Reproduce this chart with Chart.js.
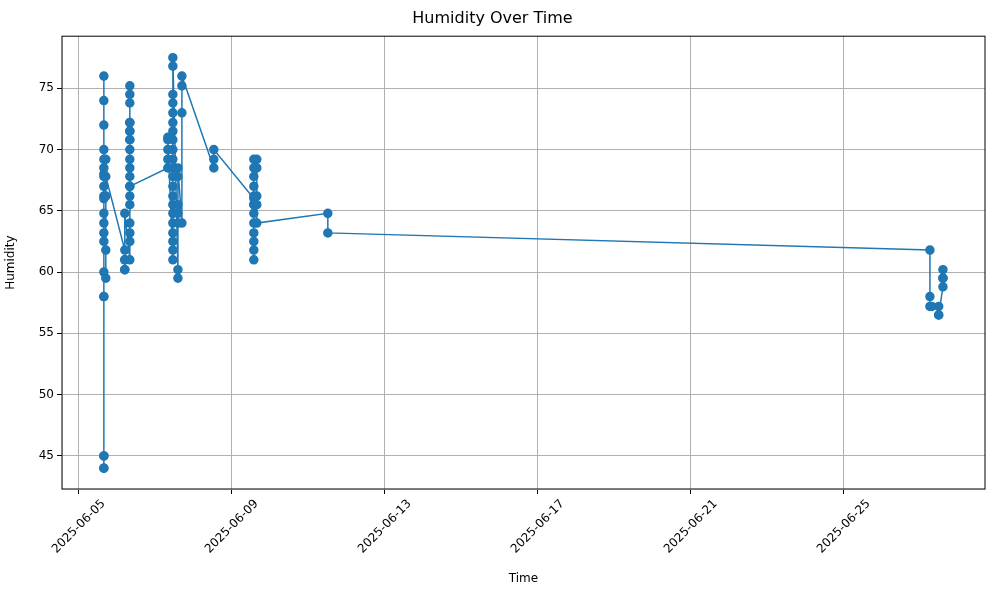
<!DOCTYPE html>
<html>
<head>
<script src="https://cdn.jsdelivr.net/npm/chart.js@4.2.0/dist/chart.umd.min.js"></script>
<style>body{margin:0;background:#fff}#wrap{width:1000px;height:600px}</style>
</head>
<body>
<div id="wrap"><canvas id="myChart"></canvas></div>
<script>
// readings grouped by timestamp (UTC)
const groupTimes = [
  '2025-06-05T15:42', '2025-06-05T16:55', '2025-06-06T04:50', '2025-06-06T08:00',
  '2025-06-07T07:50', '2025-06-07T11:00', '2025-06-07T14:10', '2025-06-07T16:40',
  '2025-06-08T12:42', '2025-06-09T13:48', '2025-06-09T15:40', '2025-06-11T12:14',
  '2025-06-27T06:00', '2025-06-27T07:10', '2025-06-27T11:30', '2025-06-27T14:10'
];
const groupValues = [
  [76, 74, 72, 70, 68, 66, 64, 62.5, 60, 58, 45, 44, 44, 45, 58, 63.2, 64.8, 66.2, 67, 67.8, 68.5, 69.2],
  [69.2, 66.2, 61.8, 59.5, 67.8],
  [61.8, 61, 60.2, 60.2, 61, 64.8],
  [61, 62.5, 63.2, 64, 65.5, 66.2, 67, 67.8, 68.5, 69.2, 70, 70.8, 71.5, 72.2, 73.8, 74.5, 75.2, 72.2, 71.5, 70.8, 67],
  [68.5, 69.2, 70, 70.8, 71],
  [61, 61.8, 62.5, 63.2, 64, 64.8, 65.5, 66.2, 67, 67.8, 68.5, 69.2, 70, 70.8, 71.5, 72.2, 73, 73.8, 74.5, 76.8, 77.5],
  [60.2, 59.5, 64, 64.8, 65.5, 67.8, 68.5],
  [64, 73, 75.2, 76],
  [68.5, 69.2, 70],
  [66, 65.5, 61, 61.8, 62.5, 63.2, 64, 64.8, 65.5, 66.2, 67, 67.8, 68.5, 69.2],
  [69.2, 68.5, 66.2, 65.5, 64],
  [64.8, 63.2],
  [61.8, 58, 57.2],
  [57.2],
  [57.2, 56.5, 56.5],
  [58.8, 59.5, 60.2, 59.5]
];
const xTickLabels = ['2025-06-05', '2025-06-09', '2025-06-13', '2025-06-17', '2025-06-21', '2025-06-25'];
const yTickValues = [45, 50, 55, 60, 65, 70, 75];

const DAY = 86400000;
const toMs = s => Date.parse(s + ':00Z');
const points = [];
groupTimes.forEach((t, i) => groupValues[i].forEach(v => points.push({x: toMs(t), y: v})));
const base = toMs('2025-06-05T00:00');
const xTicks = xTickLabels.map(s => toMs(s + 'T00:00'));

// box + rotated date labels centred on the tick (matplotlib style)
const frame = {
  id: 'frame',
  afterDraw(c) {
    const a = c.chartArea, g = c.ctx, sx = c.scales.x;
    g.save(); g.strokeStyle = '#000'; g.lineWidth = 1;
    g.strokeRect(a.left, a.top, a.right - a.left, a.bottom - a.top);
    g.font = '12px "DejaVu Sans"'; g.fillStyle = '#000';
    g.textAlign = 'center'; g.textBaseline = 'middle';
    xTicks.forEach((v, i) => {
      const w = g.measureText(xTickLabels[i]).width;
      const h = (w + 14) * Math.SQRT1_2;
      g.save();
      g.translate(sx.getPixelForValue(v), a.bottom + 8 + h / 2);
      g.rotate(-Math.PI / 4);
      g.fillText(xTickLabels[i], 0, 0);
      g.restore();
    });
    g.restore();
  }
};

Chart.defaults.font.family = 'DejaVu Sans';
Chart.defaults.color = '#000';
new Chart(document.getElementById('myChart'), {
  type: 'line',
  data: { datasets: [{
    data: points,
    borderColor: '#1f77b4', backgroundColor: '#1f77b4',
    borderWidth: 1.5, pointRadius: 4, pointHoverRadius: 4, tension: 0
  }]},
  options: {
    responsive: true, maintainAspectRatio: false, animation: false,
    layout: { padding: { top: 4, right: 15, left: 0, bottom: 14 } },
    plugins: {
      legend: { display: false },
      title: { display: true, text: 'Humidity Over Time', font: { size: 16, weight: 'normal' }, padding: { top: 5, bottom: 8 } }
    },
    scales: {
      x: {
        type: 'linear', min: base - 0.44 * DAY, max: base + 23.69 * DAY,
        afterBuildTicks: s => { s.ticks = xTicks.map(v => ({value: v})); },
        afterFit: s => { s.height = 97; },
        ticks: { callback: () => '', font: { size: 12 } },
        grid: { color: '#b0b0b0', tickColor: '#000', tickLength: 5 },
        title: { display: true, text: 'Time', font: { size: 12 }, padding: 0 }
      },
      y: {
        min: 42.3, max: 79.25,
        afterBuildTicks: s => { s.ticks = yTickValues.map(v => ({value: v})); },
        afterFit: s => { s.width = 62; },
        ticks: { font: { size: 12 } },
        grid: { color: '#b0b0b0', tickColor: '#000', tickLength: 5 },
        title: { display: true, text: 'Humidity', font: { size: 12 } }
      }
    }
  },
  plugins: [frame]
});
</script>
</body>
</html>
